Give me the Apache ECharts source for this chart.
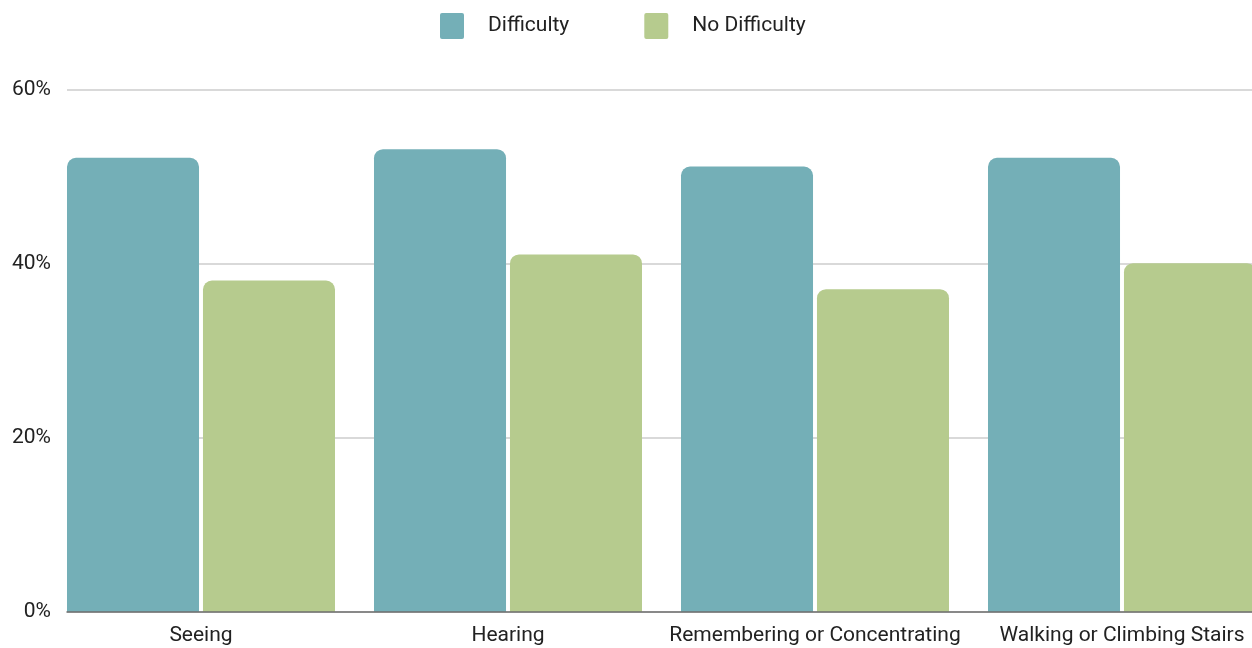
<!DOCTYPE html>
<html>
<head>
<meta charset="utf-8">
<script src="https://cdn.jsdelivr.net/npm/echarts@6/dist/echarts.min.js"></script>
<style>
html,body{margin:0;padding:0;background:#fff;overflow:hidden;width:1252px;height:648px;}
#chart{width:1276px;height:648px;}
</style>
</head>
<body>
<div id="chart"></div>
<script>
const categories = ['Seeing', 'Hearing', 'Remembering or Concentrating', 'Walking or Climbing Stairs'];
const difficulty = [52.2, 53.2, 51.2, 52.2];
const noDifficulty = [38.1, 41.1, 37.1, 40.1];
const seriesNames = ['Difficulty', 'No Difficulty'];

const chart = echarts.init(document.getElementById('chart'), null, {renderer: 'canvas'});
const font = 'Roboto, "Noto Sans", sans-serif';
const legendIcon = 'path://M2,0 H22 Q24,0 24,2 V24 Q24,26 22,26 H2 Q0,26 0,24 V2 Q0,0 2,0 Z';
chart.setOption({
  animation: false,
  textStyle: {fontFamily: font},
  legend: {
    top: 8,
    left: 435,
    itemWidth: 24,
    itemHeight: 26,
    itemGap: 75,
    icon: legendIcon,
    textStyle: {fontSize: 21, color: '#222', fontFamily: font, padding: [0, 0, 0, 19]},
    data: seriesNames
  },
  grid: [
    {left: 67, top: 90, width: 1185, height: 522, containLabel: false},
    {left: 47.5, top: 90, width: 1228, height: 522, containLabel: false}
  ],
  xAxis: [
    {
      gridIndex: 0, type: 'category', data: categories,
      axisLine: {show: true, lineStyle: {color: '#6f6f6f', width: 1.5}},
      axisTick: {show: false}, axisLabel: {show: false}, splitLine: {show: false}, z: 10
    },
    {
      gridIndex: 1, type: 'category', data: categories,
      axisLine: {show: false}, axisTick: {show: false},
      axisLabel: {interval: 0, fontSize: 21, color: '#222', margin: 13, fontFamily: font}
    }
  ],
  yAxis: [
    {
      gridIndex: 0, type: 'value', min: 0, max: 60, interval: 20,
      axisLine: {show: false}, axisTick: {show: false},
      axisLabel: {formatter: '{value}%', fontSize: 21, color: '#222', margin: 16, fontFamily: font},
      splitLine: {lineStyle: {color: '#cccccc', width: 1.5}}
    },
    {
      gridIndex: 1, type: 'value', min: 0, max: 60, interval: 20,
      show: false, splitLine: {show: false}
    }
  ],
  series: [
    {
      name: seriesNames[0], type: 'bar', xAxisIndex: 1, yAxisIndex: 1,
      data: difficulty, barGap: '3%', barCategoryGap: '12.7%',
      itemStyle: {color: '#74afb7', borderRadius: [9, 9, 0, 0]}
    },
    {
      name: seriesNames[1], type: 'bar', xAxisIndex: 1, yAxisIndex: 1,
      data: noDifficulty, barGap: '3%', barCategoryGap: '12.7%',
      itemStyle: {color: '#b6cb8e', borderRadius: [9, 9, 0, 0]}
    }
  ]
});
</script>
</body>
</html>
